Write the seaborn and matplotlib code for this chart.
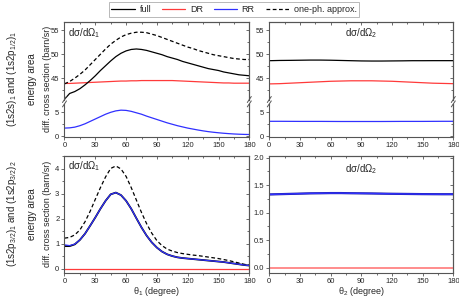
import matplotlib
matplotlib.use("Agg")
import matplotlib.pyplot as plt
from matplotlib.lines import Line2D
from matplotlib.ticker import MultipleLocator, FormatStrFormatter
import seaborn as sns

# ── data ─────────────────────────────────────────────────────────────────────
theta = list(range(0, 181, 5))      # fine grid (deg)
theta_c = list(range(0, 181, 10))   # coarse grid (deg)

# (1s2s)1 / (1s2p1/2)1 area, dσ/dΩ1
full_a1 = [40.6, 41.8, 42.2, 42.8, 43.6, 44.5, 45.5, 46.6, 47.6, 48.6, 49.5, 50.2, 50.7,
           51.0, 51.1, 51.0, 50.8, 50.5, 50.2, 49.9, 49.5, 49.2, 48.9, 48.5, 48.2, 47.9,
           47.6, 47.3, 47.0, 46.8, 46.6, 46.3, 46.1, 45.9, 45.7, 45.6, 45.5]
dr_a1 = [43.9, 43.9, 43.95, 44.0, 44.05, 44.1, 44.15, 44.2, 44.25, 44.3, 44.35, 44.4, 44.4,
         44.45, 44.45, 44.5, 44.5, 44.5, 44.5, 44.5, 44.5, 44.5, 44.45, 44.4, 44.35, 44.3,
         44.25, 44.2, 44.15, 44.1, 44.05, 44.0, 44.0, 43.95, 43.95, 43.95, 43.95]
rr_a1 = [1.7, 1.75, 1.9, 2.2, 2.6, 3.1, 3.6, 4.1, 4.6, 5.0, 5.3, 5.45, 5.4, 5.2, 4.9, 4.6,
         4.2, 3.85, 3.5, 3.15, 2.8, 2.5, 2.2, 1.95, 1.7, 1.5, 1.3, 1.12, 0.96, 0.83, 0.72,
         0.62, 0.54, 0.47, 0.42, 0.38, 0.36]
oneph_a1 = [43.8, 44.3, 45.0, 45.8, 46.7, 47.8, 48.9, 50.0, 51.1, 52.1, 52.9, 53.6, 54.1,
            54.4, 54.6, 54.6, 54.5, 54.2, 53.9, 53.5, 53.1, 52.7, 52.3, 51.9, 51.5, 51.2,
            50.8, 50.5, 50.2, 49.9, 49.7, 49.5, 49.3, 49.1, 49.0, 48.9, 48.9]

# (1s2s)1 / (1s2p1/2)1 area, dσ/dΩ2
full_a2 = [48.65, 48.7, 48.72, 48.75, 48.78, 48.78, 48.75, 48.7, 48.65, 48.6, 48.58, 48.58,
           48.6, 48.62, 48.65, 48.65, 48.66, 48.66, 48.66]
dr_a2 = [43.8, 43.85, 43.95, 44.05, 44.15, 44.25, 44.35, 44.4, 44.45, 44.45, 44.45, 44.4,
         44.35, 44.25, 44.15, 44.05, 43.95, 43.9, 43.85]
rr_a2 = [3.12, 3.12, 3.11, 3.1, 3.1, 3.1, 3.09, 3.08, 3.08, 3.08, 3.08, 3.08, 3.09, 3.1,
         3.1, 3.1, 3.11, 3.12, 3.12]

# (1s2p3/2)1 / (1s2p3/2)2 area, dσ/dΩ1
rr_b1 = [0.95, 0.92, 0.98, 1.15, 1.4, 1.72, 2.05, 2.4, 2.72, 2.98, 3.05, 2.95, 2.72, 2.4,
         2.02, 1.65, 1.32, 1.05, 0.84, 0.68, 0.57, 0.5, 0.45, 0.42, 0.4, 0.38, 0.36, 0.34,
         0.32, 0.3, 0.28, 0.26, 0.23, 0.2, 0.17, 0.14, 0.12]
full_b1 = [0.9, 0.9, 0.97, 1.15, 1.4, 1.72, 2.05, 2.4, 2.72, 2.98, 3.05, 2.95, 2.72, 2.4,
           2.02, 1.65, 1.32, 1.05, 0.84, 0.68, 0.57, 0.5, 0.45, 0.42, 0.4, 0.38, 0.36, 0.34,
           0.32, 0.3, 0.28, 0.26, 0.23, 0.2, 0.17, 0.14, 0.12]
dr_b1 = [0.0] * 37
oneph_b1 = [1.22, 1.25, 1.35, 1.55, 1.88, 2.3, 2.78, 3.25, 3.68, 4.02, 4.12, 4.0, 3.7, 3.25,
            2.75, 2.25, 1.8, 1.42, 1.12, 0.92, 0.78, 0.7, 0.64, 0.6, 0.57, 0.54, 0.52, 0.49,
            0.46, 0.43, 0.4, 0.36, 0.32, 0.27, 0.22, 0.17, 0.13]

# (1s2p3/2)1 / (1s2p3/2)2 area, dσ/dΩ2
rr_b2 = [1.33, 1.335, 1.34, 1.345, 1.35, 1.352, 1.355, 1.355, 1.352, 1.35, 1.348, 1.345,
         1.342, 1.34, 1.338, 1.336, 1.335, 1.334, 1.334]
dr_b2 = [0.0] * 19

row_labels = ["(1s2s)$_1$ and (1s2p$_{1/2}$)$_1$\nenergy area",
              "(1s2p$_{3/2}$)$_1$ and (1s2p$_{3/2}$)$_2$\nenergy area"]
legend_labels = ["full", "DR", "RR", "one-ph. approx."]

# ── style ────────────────────────────────────────────────────────────────────
sns.set_style("ticks")
plt.rcParams["font.family"] = ["Liberation Sans", "DejaVu Sans"]
plt.rcParams["mathtext.fontset"] = "custom"
plt.rcParams["mathtext.rm"] = "Liberation Sans"
plt.rcParams["mathtext.it"] = "Liberation Sans:italic"
plt.rcParams["mathtext.bf"] = "Liberation Sans:bold"

BLACK, RED, BLUE = "#000000", "#ff3a3a", "#3030ff"
PINK = "#ff8c8c"
GRAY = "#555555"
DASH = (0, (3, 2))
LW = 0.9
TICK_FS, LABEL_FS = 5.5, 6.5

W, H = 460, 297
fig = plt.figure(figsize=(W / 100, H / 100), dpi=100)


def rect(x0, y0, x1, y1):
    """image pixel box (y down) -> figure fraction rect"""
    return [x0 / W, 1 - y1 / H, (x1 - x0) / W, (y1 - y0) / H]


def style(ax, top=True, bottom=True, xlabels=True):
    ax.set_xlim(0, 180)
    ax.xaxis.set_major_locator(MultipleLocator(30))
    ax.xaxis.set_minor_locator(MultipleLocator(15))
    ax.tick_params(which="both", direction="out", labelsize=TICK_FS, color=GRAY,
                   width=0.6, pad=1.2, bottom=bottom, labelbottom=xlabels)
    ax.tick_params(which="major", length=2.5)
    ax.tick_params(which="minor", length=1.5)
    for s in ax.spines.values():
        s.set_color(GRAY)
        s.set_linewidth(0.8)
    ax.spines["top"].set_visible(top)
    ax.spines["bottom"].set_visible(bottom)
    ax.set_xlabel("")
    ax.set_ylabel("")
    # inward ticks on top / right like the original
    if top:
        sx = ax.secondary_xaxis("top")
        sx.xaxis.set_major_locator(MultipleLocator(30))
        sx.xaxis.set_minor_locator(MultipleLocator(15))
        sx.tick_params(which="both", direction="in", labeltop=False, color=GRAY, width=0.6)
        sx.tick_params(which="major", length=2.5)
        sx.tick_params(which="minor", length=1.5)
        sx.spines["top"].set_color(GRAY)
        sx.spines["top"].set_linewidth(0.8)
    sy = ax.secondary_yaxis("right")
    sy.yaxis.set_major_locator(ax.yaxis.get_major_locator())
    sy.yaxis.set_minor_locator(ax.yaxis.get_minor_locator())
    sy.tick_params(which="both", direction="in", labelright=False, color=GRAY, width=0.6)
    sy.tick_params(which="major", length=2.5)
    sy.tick_params(which="minor", length=1.5)
    sy.spines["right"].set_color(GRAY)
    sy.spines["right"].set_linewidth(0.8)


def line(ax, x, y, color, dashed=False, lw=LW):
    kw = dict(linestyle=DASH) if dashed else {}
    sns.lineplot(x=x, y=y, ax=ax, color=color, lw=lw, legend=False, **kw)


def break_marks(x0, x1, yb):
    for xs in (x0, x1):
        for dy in (-2.2, 2.2):
            yc = yb + dy
            fig.add_artist(Line2D([(xs - 2) / W, (xs + 2) / W],
                                  [1 - (yc + 3) / H, 1 - (yc - 3) / H],
                                  color=GRAY, lw=0.7, transform=fig.transFigure))


# ── top row: broken y axis ───────────────────────────────────────────────────
TOP, BRK_HI, BRK_LO, BOT = 21.7, 99.7, 103.7, 136.7
panels = [(64.5, 249.3), (269.3, 453.3)]
top_axes = []
for (x0, x1) in panels:
    ax_hi = fig.add_axes(rect(x0, TOP, x1, BRK_HI))
    ax_lo = fig.add_axes(rect(x0, BRK_LO, x1, BOT))
    ax_hi.set_ylim(40.5, 56.8)
    ax_lo.set_ylim(-0.1, 6.8)
    ax_hi.yaxis.set_major_locator(MultipleLocator(5))
    ax_hi.yaxis.set_minor_locator(MultipleLocator(2.5))
    ax_lo.yaxis.set_major_locator(MultipleLocator(5))
    ax_lo.yaxis.set_minor_locator(MultipleLocator(2.5))
    top_axes.append((ax_hi, ax_lo))
    break_marks(x0, x1, (BRK_HI + BRK_LO) / 2)

(a1_hi, a1_lo), (a2_hi, a2_lo) = top_axes

line(a1_hi, theta, dr_a1, RED)
line(a1_hi, theta, full_a1, BLACK)
line(a1_hi, theta, oneph_a1, BLACK, dashed=True)
line(a1_lo, theta, rr_a1, BLUE)

line(a2_hi, theta_c, full_a2, BLACK)
line(a2_hi, theta_c, dr_a2, RED)
line(a2_lo, theta_c, rr_a2, BLUE)

for ax_hi, ax_lo in top_axes:
    style(ax_hi, top=True, bottom=False, xlabels=False)
    style(ax_lo, top=False, bottom=True, xlabels=True)

# ── bottom row ───────────────────────────────────────────────────────────────
b1 = fig.add_axes(rect(64.5, 156, 249.3, 273))
b2 = fig.add_axes(rect(269.3, 156, 453.3, 273))
b1.set_ylim(-0.18, 4.52)
b1.yaxis.set_major_locator(MultipleLocator(1))
b1.yaxis.set_minor_locator(MultipleLocator(0.5))
b2.set_ylim(-0.1, 2.03)
b2.yaxis.set_major_locator(MultipleLocator(0.5))
b2.yaxis.set_minor_locator(MultipleLocator(0.25))

line(b1, theta, dr_b1, RED)
line(b1, theta, oneph_b1, BLACK, dashed=True)
line(b1, theta, full_b1, BLACK, lw=1.3)
line(b1, theta, rr_b1, BLUE)

line(b2, theta_c, dr_b2, PINK, lw=1.4)
line(b2, theta_c, rr_b2, "#1a1a99", lw=1.6)
line(b2, theta_c, rr_b2, BLUE, lw=1.0)

style(b1)
style(b2)
b2.yaxis.set_major_formatter(FormatStrFormatter("%.1f"))
b1.set_xlabel(r"θ$_1$ (degree)", fontsize=LABEL_FS, labelpad=0)
b2.set_xlabel(r"θ$_2$ (degree)", fontsize=LABEL_FS, labelpad=0)

# ── annotations ──────────────────────────────────────────────────────────────
a1_hi.text(0.02, 0.94, r"dσ/dΩ$_1$", transform=a1_hi.transAxes, fontsize=7, va="top")
b1.text(0.02, 0.97, r"dσ/dΩ$_1$", transform=b1.transAxes, fontsize=7, va="top")
a2_hi.text(0.5, 0.94, r"dσ/dΩ$_2$", transform=a2_hi.transAxes, fontsize=7, va="top", ha="center")
b2.text(0.5, 0.95, r"dσ/dΩ$_2$", transform=b2.transAxes, fontsize=7, va="top", ha="center")

ylab = "diff. cross section (barn/sr)"
fig.text(47 / W, 1 - 79 / H, ylab, rotation=90, ha="center", va="center", fontsize=LABEL_FS)
fig.text(47 / W, 1 - 214 / H, ylab, rotation=90, ha="center", va="center", fontsize=LABEL_FS)
fig.text(21 / W, 1 - 79 / H, row_labels[0], rotation=90, ha="center", va="center",
         fontsize=LABEL_FS + 0.5, linespacing=1.9, multialignment="center")
fig.text(21 / W, 1 - 214 / H, row_labels[1], rotation=90, ha="center", va="center",
         fontsize=LABEL_FS + 0.5, linespacing=1.9, multialignment="center")

# ── legend ───────────────────────────────────────────────────────────────────
handles = [Line2D([], [], color=BLACK, lw=LW),
           Line2D([], [], color=RED, lw=LW),
           Line2D([], [], color=BLUE, lw=LW),
           Line2D([], [], color=BLACK, lw=LW, linestyle=DASH)]
leg = fig.legend(handles, legend_labels, ncol=4, loc="center",
                 bbox_to_anchor=(234 / W, 1 - 9.5 / H), fontsize=6.5, frameon=True,
                 fancybox=False, handlelength=2.6, handletextpad=0.5, columnspacing=1.2,
                 borderpad=0.3, borderaxespad=0)
leg.get_frame().set_edgecolor("#999999")
leg.get_frame().set_linewidth(0.6)

fig.savefig("out.png", dpi=100)
